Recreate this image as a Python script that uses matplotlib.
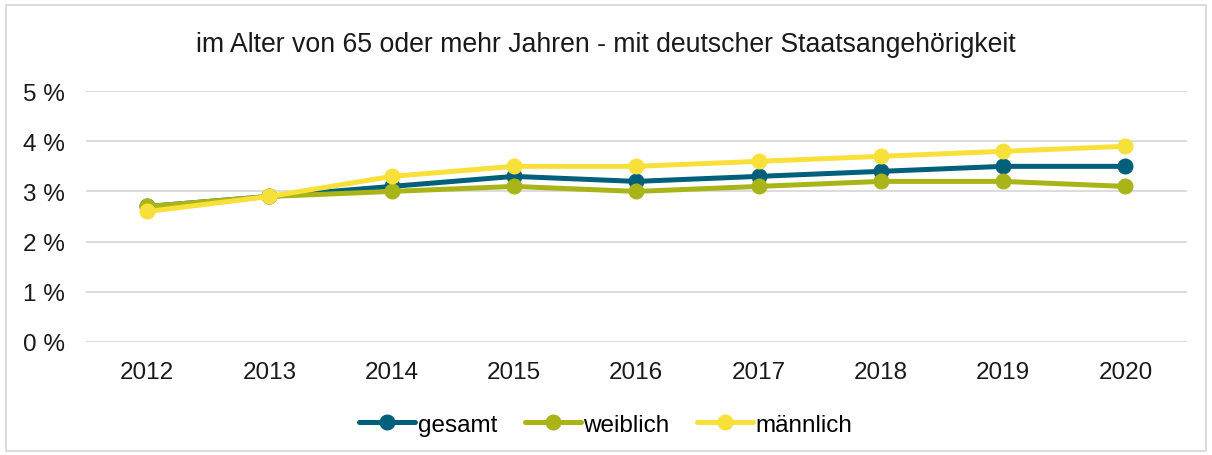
import matplotlib
matplotlib.use("Agg")
import matplotlib.pyplot as plt
from matplotlib.patches import Rectangle
from matplotlib.ticker import FuncFormatter

years = ["2012", "2013", "2014", "2015", "2016", "2017", "2018", "2019", "2020"]
gesamt = [2.7, 2.9, 3.1, 3.3, 3.2, 3.3, 3.4, 3.5, 3.5]
weiblich = [2.7, 2.9, 3.0, 3.1, 3.0, 3.1, 3.2, 3.2, 3.1]
maennlich = [2.6, 2.9, 3.3, 3.5, 3.5, 3.6, 3.7, 3.8, 3.9]
y_ticks = [0, 1, 2, 3, 4, 5]

TEAL = "#005f7a"
OLIVE = "#a9b418"
YELLOW = "#f8e03a"
GRID = "#d9d9d9"
TXT = "#1a1a1a"

plt.rcParams["font.family"] = ["Liberation Sans", "DejaVu Sans"]

fig = plt.figure(figsize=(12.12, 4.56), dpi=100)
fig.patch.set_facecolor("white")
fig.patches.append(Rectangle((0.005, 0.008), 0.99, 0.978, transform=fig.transFigure,
                             fill=False, edgecolor=GRID, lw=1.3))

ax = fig.add_axes([0.071, 0.248, 0.908, 0.550])
x = range(len(years))
style = dict(lw=3.6, marker="o", markersize=10.5, solid_capstyle="round")
ax.plot(x, gesamt, color=TEAL, label="gesamt", **style)
ax.plot(x, weiblich, color=OLIVE, label="weiblich", **style)
ax.plot(x, maennlich, color=YELLOW, label="männlich", **style)

ax.set_xlim(-0.5, len(years) - 0.5)
ax.set_ylim(0, 5)
ax.set_yticks(y_ticks)
ax.yaxis.set_major_formatter(FuncFormatter(lambda v, _: f"{v:.0f} %"))
ax.set_xticks(list(x))
ax.set_xticklabels(years)
ax.grid(axis="y", color=GRID, lw=1.3)
ax.set_axisbelow(True)
for s in ax.spines.values():
    s.set_visible(False)
ax.tick_params(length=0, labelsize=17.5, colors=TXT)
ax.tick_params(axis="x", pad=14)
ax.tick_params(axis="y", pad=15)

fig.text(0.5, 0.901, "im Alter von 65 oder mehr Jahren - mit deutscher Staatsangehörigkeit",
         ha="center", va="center", fontsize=19.2, color=TXT)

fig.legend(loc="center", bbox_to_anchor=(0.5, 0.066), ncol=3, frameon=False,
           fontsize=17.5, handlelength=2.3, handletextpad=0.1, columnspacing=1.15)

fig.savefig("out.png", dpi=100, facecolor="white")
